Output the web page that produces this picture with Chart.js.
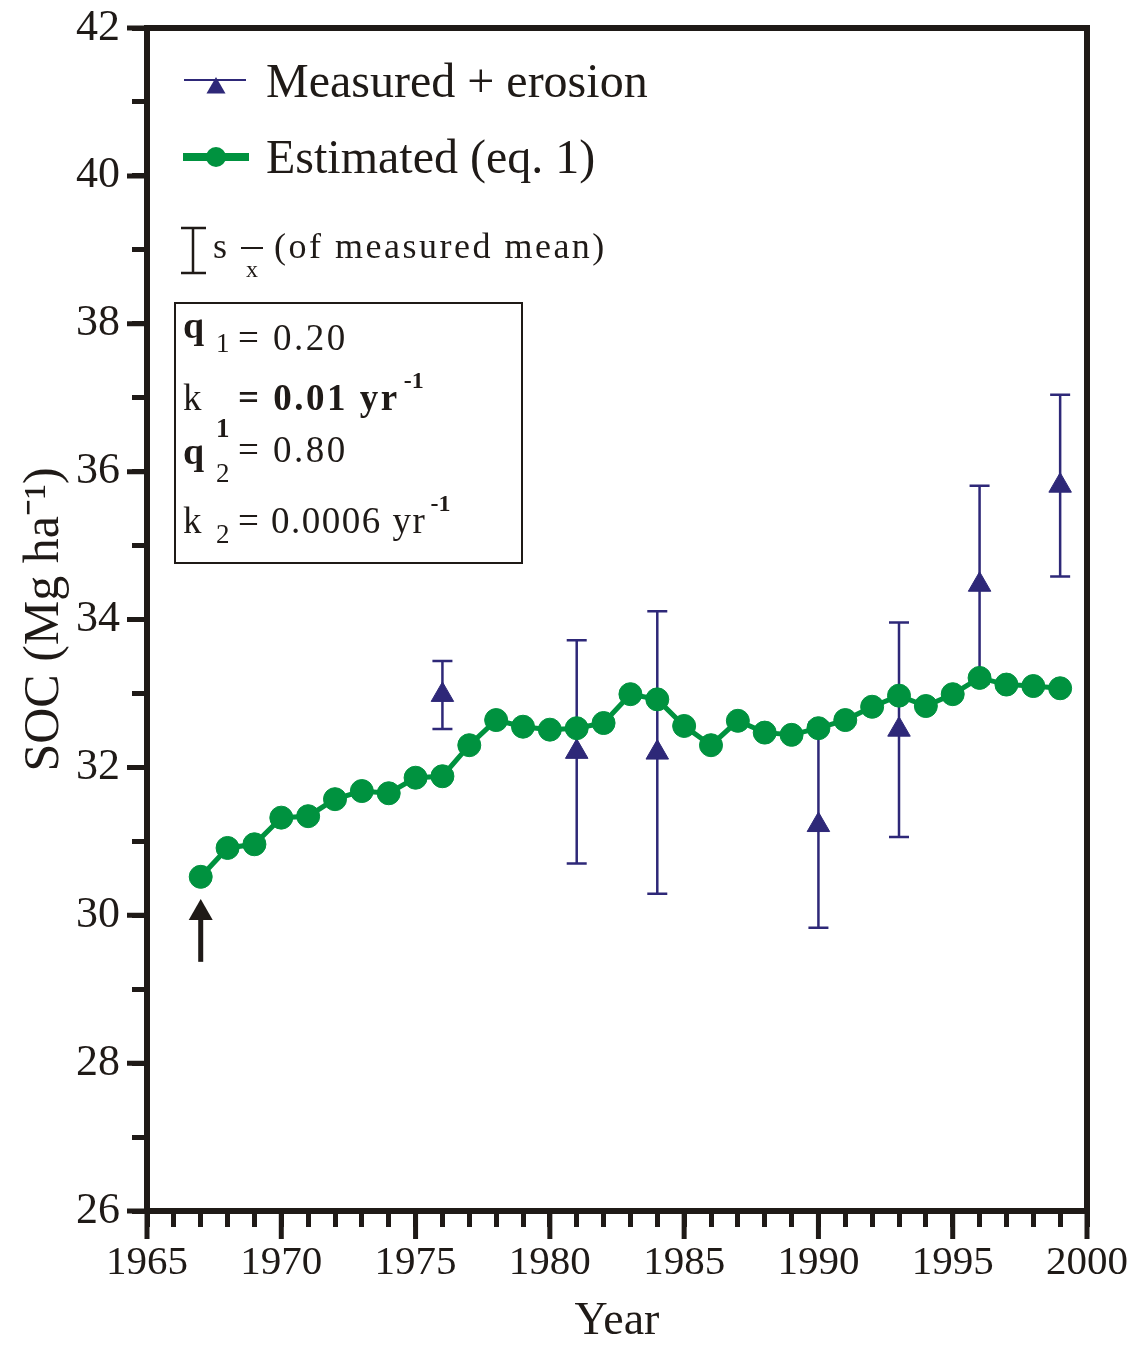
<!DOCTYPE html>
<html>
<head>
<meta charset="utf-8">
<script src="https://cdn.jsdelivr.net/npm/chart.js@4/dist/chart.umd.min.js"></script>
<style>
  html, body { margin: 0; padding: 0; background: #ffffff; }
  #wrap { width: 1138px; height: 1345px; position: relative; }
</style>
</head>
<body>
<div id="wrap"><canvas id="c"></canvas></div>
<script>
// ---------------- data ----------------
const years = [1967,1968,1969,1970,1971,1972,1973,1974,1975,1976,1977,1978,1979,1980,1981,1982,1983,1984,1985,1986,1987,1988,1989,1990,1991,1992,1993,1994,1995,1996,1997,1998,1999];
const estimatedSOC = [30.52,30.91,30.96,31.32,31.34,31.57,31.68,31.65,31.86,31.88,32.30,32.64,32.55,32.51,32.53,32.60,32.99,32.92,32.56,32.30,32.63,32.47,32.44,32.53,32.64,32.82,32.97,32.83,32.99,33.21,33.12,33.10,33.07];
const measuredYears = [1976,1981,1984,1990,1993,1996,1999];
const measuredSOC = [32.98,32.21,32.20,31.22,32.51,34.47,35.81];
const measuredSE = [0.46,1.51,1.91,1.39,1.45,1.34,1.23];
const xTickLabels = [1965,1970,1975,1980,1985,1990,1995,2000];
const yTickLabels = [26,28,30,32,34,36,38,40,42];
const arrowYear = 1967;
const arrowTail = 29.37;
const arrowTip = 30.22;
const seriesNames = ['Measured + erosion', 'Estimated (eq. 1)'];
const paramLines = [
  ['q', '1', '= 0.20', ''],
  ['k', '1', '= 0.01 yr', '-1'],
  ['q', '2', '= 0.80', ''],
  ['k', '2', '= 0.0006 yr', '-1']
];

// ---------------- style ----------------
const FONT = "'Liberation Serif', 'Times New Roman', serif";
const INK = '#1f1a17';
const GREEN = '#00923f';
const BLUE = '#2e2878';

function txt(ctx, s, x, y, size, opts) {
  opts = opts || {};
  ctx.save();
  ctx.font = (opts.bold ? 'bold ' : '') + size + 'px ' + FONT;
  ctx.fillStyle = opts.color || INK;
  ctx.textBaseline = 'alphabetic';
  ctx.textAlign = 'left';
  if ('letterSpacing' in ctx) ctx.letterSpacing = (opts.ls || 0) + 'px';
  ctx.fillText(s, x, y);
  ctx.restore();
}

const errorBarPlugin = {
  id: 'errorBars',
  beforeDatasetsDraw(chart) {
    const meta = chart.getDatasetMeta(1);
    const ys = chart.scales.y;
    const ctx = chart.ctx;
    ctx.save();
    ctx.strokeStyle = BLUE;
    ctx.lineWidth = 2.5;
    meta.data.forEach((pt, i) => {
      const x = pt.x;
      const yt = ys.getPixelForValue(measuredSOC[i] + measuredSE[i]);
      const yb = ys.getPixelForValue(measuredSOC[i] - measuredSE[i]);
      ctx.beginPath();
      ctx.moveTo(x, yt); ctx.lineTo(x, yb);
      ctx.moveTo(x - 10, yt); ctx.lineTo(x + 10, yt);
      ctx.moveTo(x - 10, yb); ctx.lineTo(x + 10, yb);
      ctx.stroke();
    });
    ctx.restore();
  }
};

const framePlugin = {
  id: 'frame',
  afterDraw(chart) {
    const ctx = chart.ctx;
    const a = chart.chartArea;
    const xs = chart.scales.x, ys = chart.scales.y;
    ctx.save();
    ctx.strokeStyle = INK;
    // top & right frame
    ctx.lineWidth = 6;
    ctx.lineCap = 'square';
    ctx.beginPath();
    ctx.moveTo(a.left, a.top);
    ctx.lineTo(a.right, a.top);
    ctx.lineTo(a.right, a.bottom);
    ctx.stroke();
    // major ticks
    ctx.lineCap = 'butt';
    ctx.lineWidth = 5;
    ctx.beginPath();
    xTickLabels.forEach(v => {
      const px = xs.getPixelForValue(v);
      ctx.moveTo(px, a.bottom); ctx.lineTo(px, a.bottom + 28);
    });
    yTickLabels.forEach(v => {
      const py = ys.getPixelForValue(v);
      ctx.moveTo(a.left - 20, py); ctx.lineTo(a.left, py);
    });
    ctx.stroke();

    // start arrow
    const ax = xs.getPixelForValue(arrowYear);
    const tipY = ys.getPixelForValue(arrowTip);
    const tailY = ys.getPixelForValue(arrowTail);
    ctx.fillStyle = INK;
    ctx.lineWidth = 5;
    ctx.beginPath();
    ctx.moveTo(ax, tipY + 18); ctx.lineTo(ax, tailY);
    ctx.stroke();
    ctx.beginPath();
    ctx.moveTo(ax, tipY);
    ctx.lineTo(ax - 12, tipY + 21);
    ctx.lineTo(ax + 12, tipY + 21);
    ctx.closePath();
    ctx.fill();

    // legend: measured
    ctx.strokeStyle = BLUE; ctx.lineWidth = 2;
    ctx.beginPath(); ctx.moveTo(184, 80); ctx.lineTo(246, 80); ctx.stroke();
    ctx.fillStyle = BLUE;
    ctx.beginPath();
    const tr = 11, tcx = 216, tcy = 88;
    ctx.moveTo(tcx, tcy - tr);
    ctx.lineTo(tcx + tr * Math.sin(2 * Math.PI / 3), tcy + tr / 2);
    ctx.lineTo(tcx - tr * Math.sin(2 * Math.PI / 3), tcy + tr / 2);
    ctx.closePath(); ctx.fill();
    txt(ctx, seriesNames[0], 266, 97, 48);

    // legend: estimated
    ctx.strokeStyle = GREEN; ctx.lineWidth = 8;
    ctx.beginPath(); ctx.moveTo(183, 157); ctx.lineTo(249, 157); ctx.stroke();
    ctx.fillStyle = GREEN;
    ctx.beginPath(); ctx.arc(216, 157, 10, 0, Math.PI * 2); ctx.fill();
    txt(ctx, seriesNames[1], 266, 173, 48);

    // legend: error bar
    ctx.strokeStyle = INK; ctx.lineWidth = 2.5;
    ctx.beginPath();
    ctx.moveTo(193, 228); ctx.lineTo(193, 273);
    ctx.moveTo(181, 228); ctx.lineTo(206, 228);
    ctx.moveTo(181, 273); ctx.lineTo(206, 273);
    ctx.stroke();
    txt(ctx, 's', 213, 258, 36);
    ctx.lineWidth = 2;
    ctx.beginPath(); ctx.moveTo(241, 248); ctx.lineTo(263, 248); ctx.stroke();
    txt(ctx, 'x', 246, 277, 24);
    txt(ctx, '(of measured mean)', 274, 258, 36, {ls: 2.5});

    // parameter box
    ctx.lineWidth = 2;
    ctx.strokeRect(175, 303, 347, 260);
    const base = [338, 410, 464, 533];
    const subBase = [352, 437, 482, 543];
    const valBase = [350, 410, 462, 533];
    paramLines.forEach((ln, i) => {
      if (ln[0] === 'q') txt(ctx, ln[0], 183, base[i], 38, {bold: true});
      else txt(ctx, ln[0], 183, base[i], 37);
      txt(ctx, ln[1], 216, subBase[i], 27, {bold: i === 1});
      const vx = 238;
      const ls = i === 3 ? 1.5 : 2.5;
      txt(ctx, ln[2], vx, valBase[i], 37, {ls: ls, bold: i === 1});
      if (ln[3]) {
        ctx.save();
        ctx.font = (i === 1 ? 'bold ' : '') + '37px ' + FONT;
        if ('letterSpacing' in ctx) ctx.letterSpacing = ls + 'px';
        const w = ctx.measureText(ln[2]).width;
        ctx.restore();
        txt(ctx, ln[3], vx + w + 4, valBase[i] - 22, 24, {bold: true});
      }
    });
    ctx.restore();
  }
};

const ctx = document.getElementById('c').getContext('2d');
new Chart(ctx, {
  type: 'line',
  data: {
    datasets: [
      {
        label: seriesNames[1],
        data: years.map((y, i) => ({x: y, y: estimatedSOC[i]})),
        borderColor: GREEN,
        backgroundColor: GREEN,
        borderWidth: 5,
        pointStyle: 'circle',
        pointRadius: 11.5,
        pointBorderWidth: 1,
        pointBackgroundColor: GREEN,
        pointBorderColor: GREEN,
        tension: 0,
        order: 0
      },
      {
        label: seriesNames[0],
        data: measuredYears.map((y, i) => ({x: y, y: measuredSOC[i]})),
        showLine: false,
        borderColor: BLUE,
        backgroundColor: BLUE,
        pointStyle: 'triangle',
        pointRadius: 13,
        pointBorderWidth: 1,
        pointBackgroundColor: BLUE,
        pointBorderColor: BLUE,
        order: 1
      }
    ]
  },
  options: {
    responsive: true,
    maintainAspectRatio: false,
    animation: false,
    layout: { padding: { top: 28, right: 51, left: 0, bottom: 0 } },
    plugins: { legend: { display: false }, tooltip: { enabled: false } },
    scales: {
      x: {
        type: 'linear',
        min: 1965,
        max: 2000,
        afterFit(s) { s.height = 134; s.paddingLeft = 0; s.paddingRight = 0; },
        ticks: {
          stepSize: 1,
          autoSkip: false,
          maxRotation: 0,
          minRotation: 0,
          padding: 12,
          color: INK,
          font: { family: FONT, size: 41 },
          callback: (v) => xTickLabels.includes(v) ? String(v) : ''
        },
        grid: { drawOnChartArea: false, drawTicks: true, tickLength: 16, tickWidth: 5, tickColor: INK },
        border: { display: true, width: 6, color: INK },
        title: { display: true, text: 'Year', color: INK, font: { family: FONT, size: 46, lineHeight: 1 }, padding: { top: 0, bottom: 0 } }
      },
      y: {
        type: 'linear',
        min: 26,
        max: 42,
        afterFit(s) { s.width = 147; s.paddingTop = 0; s.paddingBottom = 0; },
        ticks: {
          stepSize: 1,
          autoSkip: false,
          padding: 12,
          color: INK,
          font: { family: FONT, size: 44 },
          callback: (v) => yTickLabels.includes(v) ? String(v) : ''
        },
        grid: { drawOnChartArea: false, drawTicks: true, tickLength: 15, tickWidth: 5, tickColor: INK },
        border: { display: true, width: 6, color: INK },
        title: { display: true, text: 'SOC (Mg ha\u207B\u00B9)', color: INK, font: { family: FONT, size: 50, lineHeight: 1 }, padding: { top: 20, bottom: 0 } }
      }
    }
  },
  plugins: [errorBarPlugin, framePlugin]
});
</script>
</body>
</html>
